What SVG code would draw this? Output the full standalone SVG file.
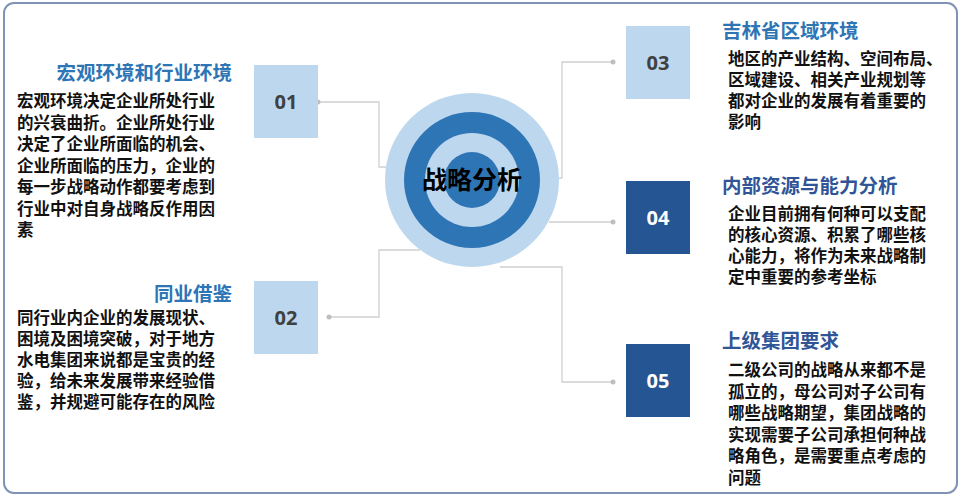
<svg xmlns="http://www.w3.org/2000/svg" width="965" height="497" viewBox="0 0 965 497">
<style>
.t{font-family:"Noto Sans CJK SC","Liberation Sans",sans-serif;font-weight:bold}
.b{font-size:16.5px;fill:#111}
.h{font-size:19.5px}
.n{font-family:"Open Sans","Liberation Sans",sans-serif;font-weight:bold;font-size:20px;text-anchor:middle}
.c{fill:none;stroke:#cfcfcf;stroke-width:1.3}
.d{fill:#bfbfbf}
</style>
<rect x="4" y="3" width="953" height="490" rx="10" fill="#fff" stroke="#7f93b5" stroke-width="2"/>
<g id="connectors">
<polyline class="c" points="318,102 379,102 379,167 386,167"/>
<polyline class="c" points="329,317 379,317 379,250 420,250"/>
<polyline class="c" points="613,62 562,62 562,178 559,178"/>
<polyline class="c" points="549,222 613,222"/>
<polyline class="c" points="500,267 562,267 562,382 613,382"/>
<circle class="d" cx="318" cy="102" r="2.5"/><circle class="d" cx="329" cy="317" r="2.5"/>
<circle class="d" cx="613" cy="62" r="2.5"/><circle class="d" cx="613" cy="222" r="2.5"/><circle class="d" cx="613" cy="382" r="2.5"/>
</g>
<g id="center">
<circle cx="472" cy="180" r="87" fill="#bdd7ee"/>
<circle cx="472" cy="180" r="68" fill="#2e75b6"/>
<circle cx="472" cy="180" r="47" fill="#bdd7ee"/>
<circle cx="472" cy="180" r="28" fill="#2e75b6"/>
<text class="t" x="472" y="189" font-size="25" text-anchor="middle" fill="#000">战略分析</text>
</g>
<g id="n01">
<rect x="254" y="65" width="64" height="73" fill="#bdd7ee"/>
<text class="n" x="286" y="109" fill="#404040">01</text>
<text class="t h" x="232" y="80" text-anchor="end" fill="#2e75b6">宏观环境和行业环境</text>
<text class="t b" x="17" y="107">宏观环境决定企业所处行业<tspan x="17" y="128.5">的兴衰曲折。企业所处行业</tspan><tspan x="17" y="150">决定了企业所面临的机会、</tspan><tspan x="17" y="171.5">企业所面临的压力，企业的</tspan><tspan x="17" y="193">每一步战略动作都要考虑到</tspan><tspan x="17" y="214.5">行业中对自身战略反作用因</tspan><tspan x="17" y="236">素</tspan></text>
</g>
<g id="n02">
<rect x="254" y="281" width="64" height="73" fill="#bdd7ee"/>
<text class="n" x="286" y="325" fill="#404040">02</text>
<text class="t h" x="232" y="301" text-anchor="end" fill="#2e75b6">同业借鉴</text>
<text class="t b" x="17" y="324">同行业内企业的发展现状、<tspan x="17" y="345">困境及困境突破，对于地方</tspan><tspan x="17" y="366">水电集团来说都是宝贵的经</tspan><tspan x="17" y="387">验，给未来发展带来经验借</tspan><tspan x="17" y="408">鉴，并规避可能存在的风险</tspan></text>
</g>
<g id="n03">
<rect x="626" y="26" width="64" height="73" fill="#bdd7ee"/>
<text class="n" x="658" y="70" fill="#404040">03</text>
<text class="t h" x="722" y="38" fill="#2e75b6">吉林省区域环境</text>
<text class="t b" x="728" y="65">地区的产业结构、空间布局、<tspan x="728" y="86">区域建设、相关产业规划等</tspan><tspan x="728" y="107">都对企业的发展有着重要的</tspan><tspan x="728" y="128">影响</tspan></text>
</g>
<g id="n04">
<rect x="626" y="181" width="64" height="73" fill="#255592"/>
<text class="n" x="658" y="225" fill="#fff">04</text>
<text class="t h" x="722" y="193" fill="#2f5597">内部资源与能力分析</text>
<text class="t b" x="728" y="220">企业目前拥有何种可以支配<tspan x="728" y="241">的核心资源、积累了哪些核</tspan><tspan x="728" y="262">心能力，将作为未来战略制</tspan><tspan x="728" y="283">定中重要的参考坐标</tspan></text>
</g>
<g id="n05">
<rect x="626" y="344" width="64" height="73" fill="#255592"/>
<text class="n" x="658" y="388" fill="#fff">05</text>
<text class="t h" x="722" y="348" fill="#2f5597">上级集团要求</text>
<text class="t b" x="728" y="376">二级公司的战略从来都不是<tspan x="728" y="397.5">孤立的，母公司对子公司有</tspan><tspan x="728" y="419">哪些战略期望，集团战略的</tspan><tspan x="728" y="440.5">实现需要子公司承担何种战</tspan><tspan x="728" y="462">略角色，是需要重点考虑的</tspan><tspan x="728" y="483.5">问题</tspan></text>
</g>
</svg>
